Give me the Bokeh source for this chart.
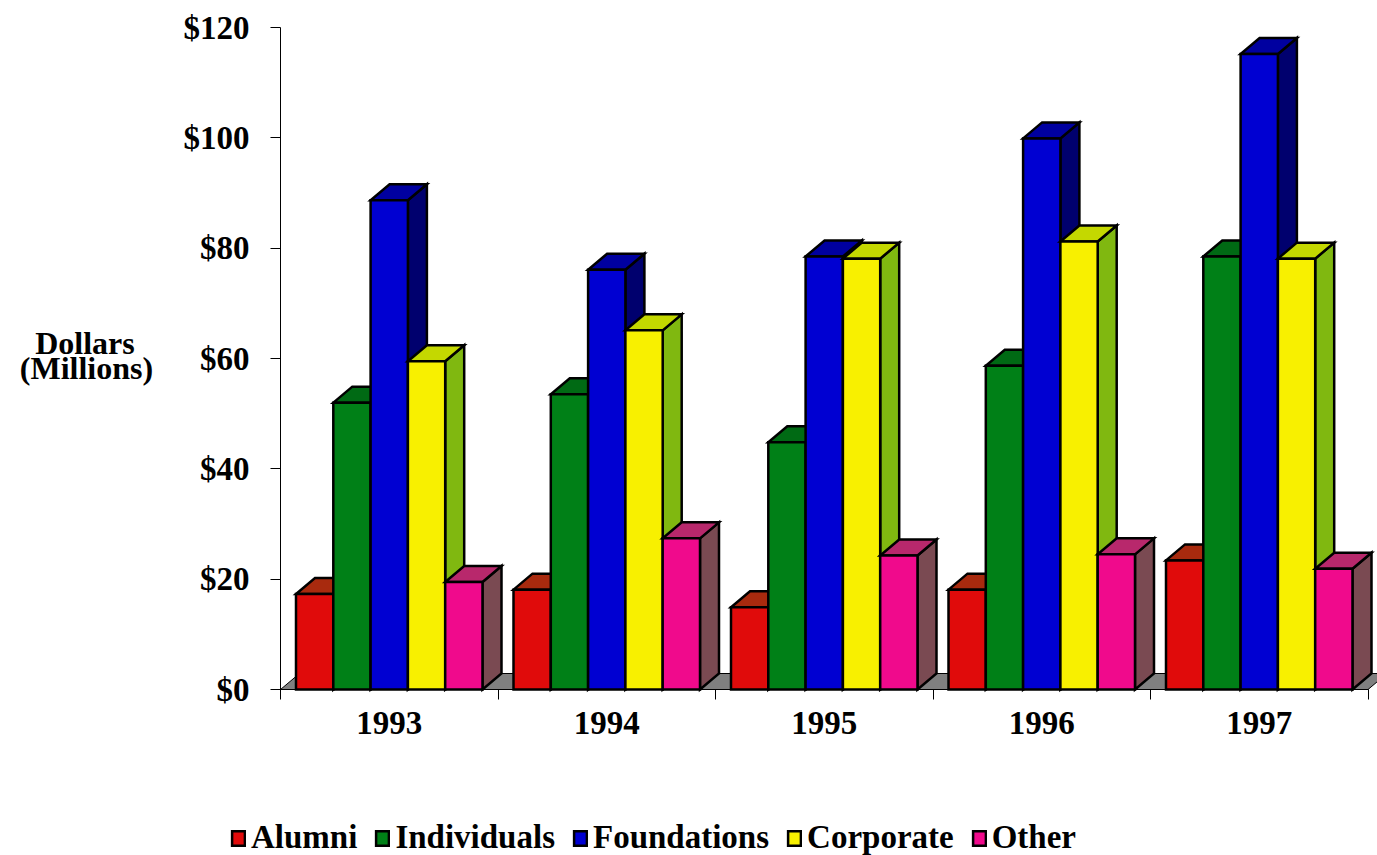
from bokeh.plotting import figure
from bokeh.models import Range1d, FixedTicker, Legend, LegendItem, Label, NumeralTickFormatter
from bokeh.embed import file_html
from bokeh.resources import INLINE

# ---- data ----
years = ["1993", "1994", "1995", "1996", "1997"]
series_names = ["Alumni", "Individuals", "Foundations", "Corporate", "Other"]
alumni = [17.3, 18.1, 14.9, 18.1, 23.4]
individuals = [52.0, 53.5, 44.8, 58.7, 78.5]
foundations = [88.7, 76.1, 78.5, 99.9, 115.2]
corporate = [59.5, 65.1, 78.1, 81.2, 78.1]
other = [19.5, 27.4, 24.3, 24.5, 21.9]
y_ticks = [0, 20, 40, 60, 80, 100, 120]
y_title = ["Dollars", "(Millions)"]

# ---- style / geometry ----
front_colors = ["#E00B0B", "#008017", "#0000D2", "#F8F000", "#F00A8C"]
top_colors = ["#A82A0E", "#006A14", "#0000A0", "#C4D800", "#B8286C"]
side_colors = ["#7A1A0A", "#004A10", "#00006E", "#80B810", "#7A4A52"]
FONT = "Liberation Serif"

W, H = 1377, 855
AX_X, AX_Y0, AX_Y1 = 280, 689, 27      # pixel position of the axes
PX_PER_CAT = 217.5
Y_MAX = 120
PPV = (AX_Y0 - AX_Y1) / Y_MAX          # pixels per dollar
DX = 19 / PX_PER_CAT
DY = 16 / PPV
BW = 37.3 / PX_PER_CAT
OFF = (1 - 5 * BW) / 2

x_range = Range1d(-AX_X / PX_PER_CAT, (W - AX_X) / PX_PER_CAT)
y_range = Range1d(-(H - AX_Y0) / PPV, Y_MAX + AX_Y1 / PPV)

p = figure(width=W, height=H, x_range=x_range, y_range=y_range,
           output_backend="svg", toolbar_location=None,
           min_border_left=0, min_border_right=0, min_border_top=0,
           min_border_bottom=0)
p.xgrid.visible = False
p.ygrid.visible = False
p.outline_line_color = None
p.background_fill_color = "white"
p.border_fill_color = "white"

n = len(years)
# floor
p.patch([0, n, n + DX, DX], [0, 0, DY, DY], fill_color="#808080",
        line_color="black", line_width=1)

all_vals = [alumni, individuals, foundations, corporate, other]
items = []
for s, vals in enumerate(all_vals):
    lefts = [g + OFF + s * BW for g in range(n)]
    rights = [l + BW for l in lefts]
    side_xs = [[r, r + DX, r + DX, r] for r in rights]
    side_ys = [[0, DY, v + DY, v] for v in vals]
    top_xs = [[l, r, r + DX, l + DX] for l, r in zip(lefts, rights)]
    top_ys = [[v, v, v + DY, v + DY] for v in vals]
    p.patches(side_xs, side_ys, fill_color=side_colors[s], line_color="black",
              line_width=2.5, line_join="miter")
    p.patches(top_xs, top_ys, fill_color=top_colors[s], line_color="black",
              line_width=2.5, line_join="miter")
    r = p.quad(left=lefts, right=rights, bottom=[0] * n, top=vals,
               fill_color=front_colors[s], line_color="black", line_width=2.5,
               line_join="miter")
    items.append(LegendItem(label=series_names[s], renderers=[r]))

# x axis
xa = p.xaxis[0]
xa.fixed_location = 0
xa.bounds = (0, n)
centers = [g + 0.5 for g in range(n)]
xa.ticker = FixedTicker(ticks=centers, minor_ticks=list(range(n + 1)))
xa.major_label_overrides = {c: y for c, y in zip(centers, years)}
xa.major_tick_line_color = None
xa.major_tick_out = 0
xa.major_tick_in = 0
xa.minor_tick_out = 10
xa.minor_tick_in = 0
xa.minor_tick_line_color = "black"
xa.major_label_standoff = 12
xa.major_label_text_font = FONT
xa.major_label_text_font_style = "bold"
xa.major_label_text_font_size = "33px"
xa.major_label_text_color = "black"
xa.axis_line_color = "black"

# y axis
ya = p.yaxis[0]
ya.fixed_location = 0
ya.bounds = (0, Y_MAX)
ya.ticker = FixedTicker(ticks=y_ticks)
ya.formatter = NumeralTickFormatter(format="$0")
ya.major_tick_out = 10
ya.major_tick_in = 0
ya.minor_tick_line_color = None
ya.major_label_standoff = 21
ya.major_label_text_font = FONT
ya.major_label_text_font_style = "bold"
ya.major_label_text_font_size = "33px"
ya.major_label_text_color = "black"
ya.axis_line_color = "black"

# y title, two lines
for txt, cx, base_px in zip(y_title, [84.5, 86.0], [342.0, 367.0]):
    p.add_layout(Label(x=(cx - AX_X) / PX_PER_CAT, y=(AX_Y0 - base_px) / PPV,
                       text=txt, text_align="center", text_baseline="alphabetic",
                       text_font=FONT, text_font_style="bold",
                       text_font_size="32px", text_color="black"))

legend = Legend(items=items, orientation="horizontal", location=(230, -1),
                glyph_width=16, glyph_height=18, label_standoff=5, spacing=17,
                padding=0, margin=0, border_line_color=None,
                background_fill_alpha=0,
                label_text_font=FONT, label_text_font_style="bold",
                label_text_font_size="33px", label_text_color="black")
p.add_layout(legend)

open("out.html", "w").write(file_html(p, INLINE))
